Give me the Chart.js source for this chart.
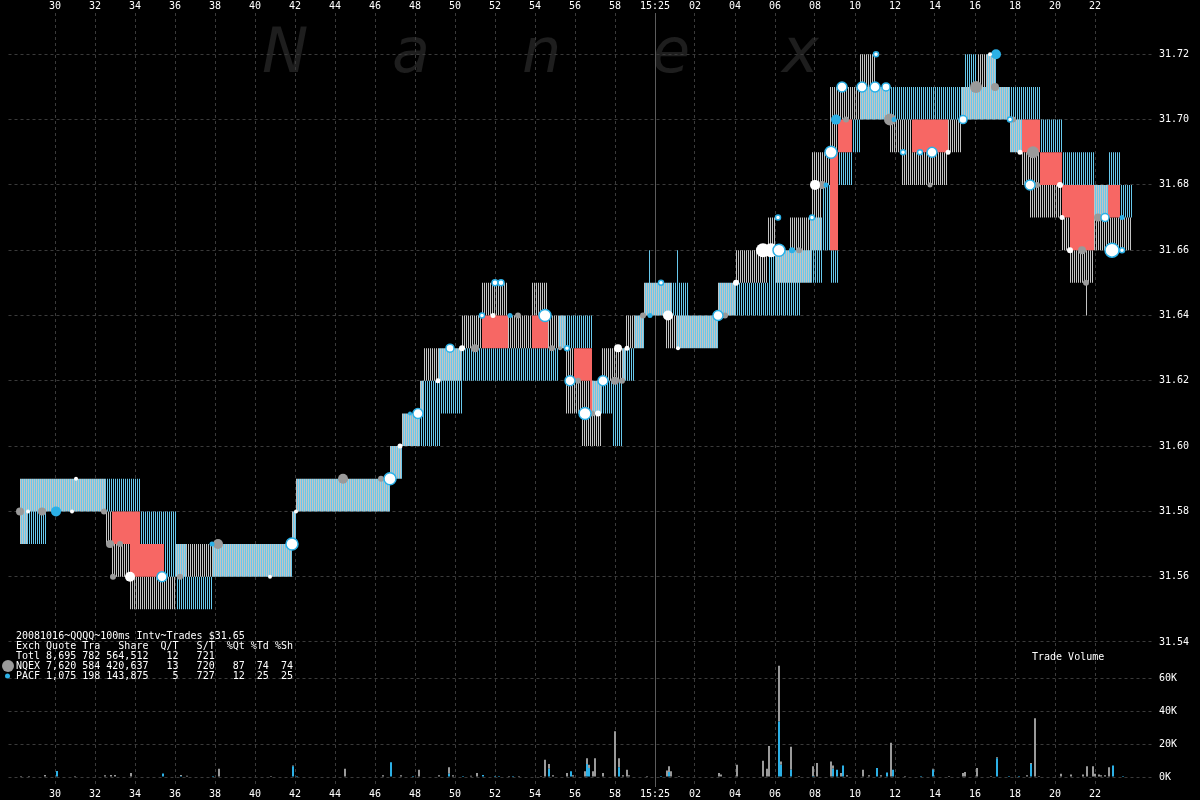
<!DOCTYPE html>
<html>
<head>
<meta charset="utf-8">
<script src="https://cdn.jsdelivr.net/npm/chart.js@4.4.1/dist/chart.umd.min.js"></script>
<style>
  html, body { margin: 0; padding: 0; background: #000; }
</style>
</head>
<body>
<canvas id="chart" width="1200" height="800"></canvas>
<script>
// QQQQ 2008-10-16, 15:24:28 - 15:25:24, 100ms intervals. Time = seconds from 15:25:00

// x axis ticks (seconds) and their labels
const xTickValues = [-30, -28, -26, -24, -22, -20, -18, -16, -14, -12, -10, -8, -6, -4, -2, 0, 2, 4, 6, 8, 10, 12, 14, 16, 18, 20, 22];
const xTickLabels = ['30', '32', '34', '36', '38', '40', '42', '44', '46', '48', '50', '52', '54', '56', '58', '15:25', '02', '04', '06', '08', '10', '12', '14', '16', '18', '20', '22'];
const priceTicks = [31.54, 31.56, 31.58, 31.60, 31.62, 31.64, 31.66, 31.68, 31.70, 31.72];
const volumeTicks = [0, 20, 40, 60]; // thousands of shares

// NQEX quote: value holds from time[i] until time[i+1]
const nqexTime = [-31.7, -31.3, -27.4, -27.1, -26.2, -23.9, -18.1, -17.9, -13.2, -12.6, -11.7, -11.5, -9.6, -8.6, -7.3, -6.1, -5.3, -4.4, -4.0, -3.6, -3.2, -3.1, -2.6, -1.4, -0.5, 0.6, 0.9, 3.2, 4.1, 5.7, 6.1, 6.8, 7.9, 8.4, 8.8, 9.2, 10.3, 11.1, 11.8, 12.4, 12.9, 14.7, 15.4, 16.2, 17.1, 17.8, 18.4, 18.8, 19.3, 20.4, 20.8, 21.6, 21.7, 22.0, 22.7, 23.9];
const nqexBid = [31.57, 31.58, 31.57, 31.56, 31.55, 31.56, 31.57, 31.58, 31.59, 31.60, 31.61, 31.62, 31.63, 31.64, 31.63, 31.64, 31.63, 31.61, 31.61, 31.60, 31.60, 31.60, 31.62, 31.63, 31.64, 31.63, 31.63, 31.64, 31.65, 31.66, 31.65, 31.65, 31.66, 31.68, 31.69, 31.70, 31.70, 31.70, 31.69, 31.68, 31.68, 31.69, 31.70, 31.70, 31.70, 31.69, 31.68, 31.67, 31.67, 31.66, 31.65, 31.64, 31.65, 31.66, 31.66, null];
const nqexAsk = [31.59, 31.59, 31.58, 31.57, 31.56, 31.57, 31.58, 31.59, 31.60, 31.61, 31.62, 31.63, 31.64, 31.65, 31.64, 31.65, 31.64, 31.63, 31.62, 31.62, 31.61, 31.62, 31.63, 31.64, 31.65, 31.65, 31.64, 31.65, 31.66, 31.67, 31.66, 31.67, 31.69, 31.69, 31.71, 31.71, 31.72, 31.71, 31.70, 31.70, 31.69, 31.70, 31.71, 31.72, 31.71, 31.70, 31.69, 31.69, 31.68, 31.67, 31.66, 31.66, 31.66, 31.68, 31.67, null];

// PACF quote
const pacfTime = [-31.7, -30.4, -25.7, -24.5, -23.9, -23.4, -22.1, -18.1, -17.9, -13.2, -12.6, -11.7, -10.8, -10.7, -9.6, -4.8, -3.1, -2.1, -1.6, -1.0, -0.5, -0.3, -0.2, 1.1, 1.2, 1.7, 3.2, 5.7, 7.3, 7.8, 8.4, 8.8, 9.2, 9.9, 10.3, 15.5, 16.1, 16.6, 17.1, 17.8, 18.4, 19.3, 20.4, 22.0, 22.7, 23.3, 23.9];
const pacfBid = [31.57, 31.58, 31.57, 31.56, 31.55, 31.55, 31.56, 31.57, 31.58, 31.59, 31.60, 31.60, 31.60, 31.61, 31.62, 31.63, 31.61, 31.60, 31.62, 31.63, 31.64, 31.64, 31.64, 31.63, 31.63, 31.63, 31.64, 31.64, 31.65, 31.65, 31.66, 31.65, 31.68, 31.69, 31.70, 31.70, 31.70, 31.70, 31.70, 31.69, 31.70, 31.69, 31.68, 31.67, 31.68, 31.67, null];
const pacfAsk = [31.59, 31.59, 31.58, 31.58, 31.57, 31.56, 31.57, 31.58, 31.59, 31.60, 31.61, 31.62, 31.63, 31.63, 31.63, 31.64, 31.62, 31.62, 31.63, 31.64, 31.65, 31.66, 31.65, 31.66, 31.65, 31.64, 31.65, 31.66, 31.66, 31.67, 31.68, 31.66, 31.69, 31.70, 31.71, 31.72, 31.71, 31.72, 31.71, 31.71, 31.71, 31.70, 31.69, 31.68, 31.69, 31.68, null];

// trades: [time, price, dot radius]
const nqexTrades = [[-31.75, 31.58, 4], [-30.65, 31.58, 4], [-27.55, 31.58, 3], [-27.25, 31.57, 4], [-26.75, 31.57, 3], [-27.1, 31.56, 3], [-23.75, 31.56, 3], [-21.85, 31.57, 5], [-15.6, 31.59, 5], [-13.7, 31.59, 3], [-9.0, 31.63, 4], [-6.85, 31.64, 3], [-5.15, 31.63, 3], [-4.75, 31.63, 2], [-3.85, 31.62, 3], [-3.15, 31.61, 3], [-2.0, 31.62, 4], [-1.65, 31.62, 3], [-0.6, 31.64, 3], [3.5, 31.64, 3], [7.2, 31.66, 3], [8.35, 31.68, 4], [9.55, 31.70, 3], [11.75, 31.70, 6], [13.75, 31.68, 2.5], [16.05, 31.71, 6], [17.0, 31.71, 4], [17.9, 31.70, 3], [18.9, 31.69, 6], [19.1, 31.68, 3], [21.35, 31.66, 4], [21.55, 31.65, 3], [22.15, 31.67, 4]];
const pacfTrades = [[-29.95, 31.58, 5], [-22.15, 31.57, 2.5], [-12.25, 31.61, 2], [-7.25, 31.64, 2.5], [-0.25, 31.64, 2.5], [6.85, 31.66, 3], [8.55, 31.68, 2.5], [9.05, 31.70, 5], [11.95, 31.70, 2.5], [17.05, 31.72, 5], [23.35, 31.67, 2.5]];
const plainTrades = [[-31.35, 31.58, 2], [-28.95, 31.59, 2], [-29.15, 31.58, 2], [-26.25, 31.56, 5], [-19.25, 31.56, 2], [-17.95, 31.58, 2], [-12.75, 31.60, 2.5], [-10.85, 31.62, 2.5], [-9.65, 31.63, 3], [-8.1, 31.64, 2.5], [-2.85, 31.61, 3], [-1.85, 31.63, 4], [-1.4, 31.63, 2.5], [0.65, 31.64, 5], [1.15, 31.63, 2], [4.05, 31.65, 3], [5.4, 31.66, 7], [5.8, 31.66, 7], [8.0, 31.68, 5], [14.65, 31.69, 2.5], [16.75, 31.72, 2], [18.25, 31.69, 2.5], [20.25, 31.68, 3], [20.35, 31.67, 2.5], [20.75, 31.66, 3]];
const ringTrades = [[-24.65, 31.56, 5], [-18.15, 31.57, 6], [-13.25, 31.59, 6], [-11.85, 31.61, 5], [-10.25, 31.63, 4], [-8.65, 31.64, 2.5], [-8.0, 31.65, 3], [-7.7, 31.65, 3], [-5.5, 31.64, 6], [-4.4, 31.63, 2.5], [-4.25, 31.62, 5], [-3.5, 31.61, 6], [-2.6, 31.62, 5], [0.3, 31.65, 2.5], [3.15, 31.64, 5], [6.2, 31.66, 6], [6.15, 31.67, 2.5], [7.85, 31.67, 2.5], [8.8, 31.69, 6], [9.35, 31.71, 5], [10.35, 31.71, 5], [11.0, 31.71, 5], [11.55, 31.71, 4], [11.05, 31.72, 2.5], [12.4, 31.69, 2.5], [13.25, 31.69, 2.5], [13.85, 31.69, 5], [15.4, 31.70, 4], [17.75, 31.70, 2.5], [18.75, 31.68, 5], [22.5, 31.67, 4], [22.85, 31.66, 7], [23.35, 31.66, 2.5]];

// trade volume per 100ms interval, thousands of shares
const volTime = [-31.7, -31.3, -30.5, -29.9, -29.0, -27.5, -27.2, -27.0, -26.2, -24.6, -23.7, -23.4, -22.1, -21.8, -19.2, -18.1, -17.9, -15.5, -13.6, -13.2, -12.7, -12.1, -11.8, -10.8, -10.3, -10.1, -9.6, -9.2, -8.9, -8.6, -8.0, -7.8, -7.3, -7.1, -6.8, -5.7, -5.5, -5.3, -5.1, -4.4, -4.2, -4.1, -3.5, -3.4, -3.3, -3.1, -3.0, -2.6, -2.0, -1.8, -1.6, -1.4, -1.3, -0.4, 0.3, 0.6, 0.7, 0.8, 1.2, 3.2, 3.3, 4.1, 5.4, 5.6, 5.7, 6.2, 6.3, 6.8, 7.2, 7.9, 8.1, 8.8, 8.9, 9.1, 9.3, 9.4, 9.6, 10.4, 10.7, 11.1, 11.3, 11.6, 11.8, 11.9, 12.5, 13.3, 13.9, 14.7, 15.4, 15.5, 16.1, 16.8, 17.1, 17.7, 18.2, 18.6, 18.8, 19.0, 19.2, 20.3, 20.8, 21.4, 21.6, 21.9, 22.0, 22.2, 22.3, 22.5, 22.7, 22.9, 23.4];
const volNqex = [0.6, 0.6, 1.2, 0, 0.6, 1.0, 1.2, 1.2, 2.4, 0, 0.6, 0.8, 0, 5.0, 0.6, 0.6, 0, 5.0, 1.0, 0, 1.0, 0, 4.5, 1.0, 4.0, 1.0, 0, 0.8, 2.5, 0, 0, 0, 0.6, 0, 0.6, 0.6, 10.5, 3.0, 1.0, 2.5, 0, 1.0, 3.5, 3.5, 2.0, 3.5, 11.5, 2.5, 28.0, 5.5, 1.0, 4.5, 1.0, 0.6, 0, 4.0, 3.5, 3.5, 0.6, 2.5, 1.5, 7.5, 10.0, 5.0, 19.0, 34.0, 2.0, 14.0, 0.6, 6.0, 8.5, 9.5, 2.0, 0, 2.5, 0, 1.0, 4.5, 1.0, 0, 1.0, 0, 21.0, 0, 0.6, 0, 0.6, 0.6, 2.5, 3.0, 5.5, 0.6, 0.6, 0, 0, 1.0, 0.6, 36.0, 0.6, 2.0, 1.5, 1.5, 6.5, 6.5, 2.0, 1.5, 1.0, 1.0, 6.0, 0, 0];
const volPacf = [0, 0, 0, 3.7, 0, 0, 0, 0, 0, 2.2, 0.6, 0, 0.6, 0, 0, 6.5, 0.6, 0, 0, 9.0, 0, 0.6, 0, 0, 2.0, 0, 0.6, 0, 0, 1.2, 0.6, 0.6, 0, 0.6, 0, 0, 0, 5.0, 0, 0, 3.5, 0, 0, 8.0, 5.5, 0, 0, 0, 0, 6.0, 0, 0, 0, 0, 0.6, 0, 3.0, 0, 0, 0, 0, 0, 0, 0, 0, 34.0, 7.5, 4.5, 0, 0.6, 0, 0, 5.0, 4.5, 0, 7.0, 0, 0, 0, 5.5, 0, 2.8, 0, 4.5, 0, 0.6, 4.5, 0, 0, 0, 0, 0, 11.5, 0.6, 0.6, 0, 8.0, 0, 0, 0, 0, 0, 0, 0, 0, 0, 0, 0, 0, 7.0, 0.6];

const legendLines = [
  '20081016~QQQQ~100ms Intv~Trades $31.65',
  'Exch Quote Tra   Share  Q/T   S/T  %Qt %Td %Sh',
  'Totl 8,695 782 564,512   12   721',
  'NQEX 7,620 584 420,637   13   720   87  74  74',
  'PACF 1,075 198 143,875    5   727   12  25  25'
];
const watermark = ['N', 'a', 'n', 'e', 'x'];

const nqexGray = '#c4c4c4';
const pacfBlue = '#68c8ec';
const tradeBlue = '#2cb0e6';
const monoFont = { family: '"DejaVu Sans Mono", monospace', size: 10 };

// expand the step series into 100ms bins
function quoteBins(times, bids, asks) {
  const bins = new Map();
  for (let i = 0; i < times.length - 1; i++) {
    if (bids[i] === null) continue;
    const k0 = Math.round(times[i] * 10), k1 = Math.round(times[i + 1] * 10);
    for (let k = k0; k < k1; k++) bins.set(k, [bids[i], asks[i]]);
  }
  return bins;
}
const nqexBins = quoteBins(nqexTime, nqexBid, nqexAsk);
const pacfBins = quoteBins(pacfTime, pacfBid, pacfAsk);
const toBars = bins => [...bins].map(([k, r]) => ({ x: k / 10, y: r }));

// crossed market: best bid above best offer
const crossedBars = [];
nqexBins.forEach((n, k) => {
  const p = pacfBins.get(k);
  if (!p) return;
  const hiBid = Math.max(n[0], p[0]), loAsk = Math.min(n[1], p[1]);
  if (hiBid > loAsk) crossedBars.push({ x: k / 10, y: [loAsk, hiBid] });
});

const snap = t => Math.round(t * 10) / 10;
const volBars = vals => volTime.map((t, i) => ({ x: snap(t), y: vals[i] }));
const dots = list => list.map(d => ({ x: d[0], y: d[1] }));
const radii = list => list.map(d => d[2]);

// target geometry: 15:25 at x=655, 20px a second; 31.72 at y=54.3, 31.54 at y=642; 0K at y=777
const zeroPx = 655, pxPerSec = 20;
const pxPerPrice = (642 - 54.3) / 0.18, pxPerK = 98.1 / 60;

const barFull = { grouped: false, barPercentage: 1, categoryPercentage: 1, borderWidth: 0, inflateAmount: 0 };
const barHalf = { ...barFull, barPercentage: 0.5 };

const nanexPlugin = {
  id: 'nanex',
  afterLayout(chart) {
    // volume labels share the price axis column on the right
    const v = chart.scales.yv, p = chart.scales.y;
    v.left = p.left; v.right = p.right; v.width = p.width;
  },
  beforeDraw(chart) {
    const ctx = chart.ctx;
    ctx.save();
    ctx.fillStyle = '#000';
    ctx.fillRect(0, 0, chart.width, chart.height);
    ctx.font = 'italic 62px "DejaVu Sans"';
    ctx.fillStyle = '#1e1e1e';
    watermark.forEach((ch, i) => ctx.fillText(ch, 262 + i * 130, 72));
    ctx.restore();
  },
  beforeDatasetsDraw(chart) {
    // 15:25 separator
    const ctx = chart.ctx, a = chart.chartArea;
    const px = Math.round(chart.scales.x.getPixelForValue(0)) + 0.5;
    ctx.save();
    ctx.strokeStyle = '#5c5c5c';
    ctx.lineWidth = 1;
    ctx.beginPath();
    ctx.moveTo(px, a.top);
    ctx.lineTo(px, a.bottom);
    ctx.stroke();
    ctx.restore();
  },
  afterDatasetsDraw(chart) {
    const ctx = chart.ctx;
    ctx.save();
    ctx.font = '10px "DejaVu Sans Mono", monospace';
    ctx.fillStyle = '#fff';
    ctx.textBaseline = 'middle';
    legendLines.forEach((line, i) => ctx.fillText(line, 16, 636 + i * 10));
    ctx.fillText('Trade Volume', 1032, 657);
    ctx.fillStyle = '#9a9a9a';
    ctx.beginPath(); ctx.arc(8, 666, 6, 0, Math.PI * 2); ctx.fill();
    ctx.fillStyle = tradeBlue;
    ctx.beginPath(); ctx.arc(7.5, 676, 2.5, 0, Math.PI * 2); ctx.fill();
    ctx.restore();
  }
};

const gridColor = '#3a3a3a';
const fitX = s => { s.height = 13; s.paddingLeft = 0; s.paddingRight = 0; };
const hiddenX = { type: 'linear', display: false, offset: false, min: -32.75, max: 24.85 };

const chart = new Chart(document.getElementById('chart'), {
  type: 'bar',
  data: {
    datasets: [
      { type: 'scatter', data: dots(ringTrades), pointRadius: radii(ringTrades), backgroundColor: '#fff', borderColor: tradeBlue, pointBorderWidth: 1.5, order: 1, xAxisID: 'x', yAxisID: 'y' },
      { type: 'scatter', data: dots(plainTrades), pointRadius: radii(plainTrades), backgroundColor: '#fff', pointBorderWidth: 0, order: 2, xAxisID: 'x', yAxisID: 'y' },
      { type: 'scatter', data: dots(pacfTrades), pointRadius: radii(pacfTrades), backgroundColor: tradeBlue, pointBorderWidth: 0, order: 3, xAxisID: 'x', yAxisID: 'y' },
      { type: 'scatter', data: dots(nqexTrades), pointRadius: radii(nqexTrades), backgroundColor: '#9a9a9a', pointBorderWidth: 0, order: 4, xAxisID: 'x', yAxisID: 'y' },
      { ...barFull, label: 'crossed', data: crossedBars, backgroundColor: '#f76764', order: 5, xAxisID: 'x', yAxisID: 'y' },
      // each exchange fills one pixel column of every 2px interval, so overlap interleaves
      { ...barHalf, label: 'PACF', data: toBars(pacfBins), backgroundColor: pacfBlue, order: 6, xAxisID: 'xb', yAxisID: 'y' },
      { ...barHalf, label: 'NQEX', data: toBars(nqexBins), backgroundColor: nqexGray, order: 7, xAxisID: 'xg', yAxisID: 'y' },
      { ...barFull, label: 'PACF vol', data: volBars(volPacf), backgroundColor: tradeBlue, stack: 'vol', order: 8, xAxisID: 'x', yAxisID: 'yv' },
      { ...barFull, label: 'NQEX vol', data: volBars(volNqex), backgroundColor: '#9a9a9a', stack: 'vol', order: 9, xAxisID: 'x', yAxisID: 'yv' }
    ]
  },
  options: {
    responsive: false,
    animation: false,
    events: [],
    layout: { padding: 0 },
    plugins: { legend: { display: false }, tooltip: { enabled: false } },
    scales: {
      x: {
        type: 'linear', position: 'bottom', min: -32.75, max: 24.85, offset: false,
        afterFit: fitX,
        afterBuildTicks: s => { s.ticks = xTickValues.map(v => ({ value: v })); },
        grid: { color: gridColor, drawTicks: false, offset: false },
        border: { display: false, dash: [3, 3] },
        ticks: { color: '#fff', font: monoFont, padding: 1, autoSkip: false, maxRotation: 0, callback: (v, i) => xTickLabels[i] }
      },
      x2: {
        type: 'linear', position: 'top', min: -32.75, max: 24.85, offset: false,
        afterFit: fitX,
        afterBuildTicks: s => { s.ticks = xTickValues.map(v => ({ value: v })); },
        grid: { display: false, drawTicks: false, offset: false },
        border: { display: false },
        ticks: { color: '#fff', font: monoFont, padding: 1, autoSkip: false, maxRotation: 0, callback: (v, i) => xTickLabels[i] }
      },
      xg: { ...hiddenX },
      xb: { ...hiddenX },
      y: {
        type: 'linear', position: 'right', min: 31.4956, max: 31.7327, stacked: false, weight: 1,
        afterFit: s => { s.width = 48; s.paddingTop = 0; s.paddingBottom = 0; },
        afterBuildTicks: s => { s.ticks = priceTicks.map(v => ({ value: v })); },
        grid: { color: gridColor, drawTicks: false },
        border: { display: false, dash: [3, 3] },
        ticks: { color: '#fff', font: monoFont, padding: 7, callback: v => v.toFixed(2) }
      },
      yv: {
        type: 'linear', position: 'right', min: -6.12, max: 467.3, stacked: true, weight: 0,
        afterFit: s => { s.width = 0; s.paddingTop = 0; s.paddingBottom = 0; },
        afterBuildTicks: s => { s.ticks = volumeTicks.map(v => ({ value: v })); },
        grid: { color: gridColor, drawTicks: false },
        border: { display: false, dash: [3, 3] },
        ticks: { color: '#fff', font: monoFont, padding: 7, callback: v => v + 'K' }
      }
    }
  },
  plugins: [nanexPlugin]
});

// pin the axis ranges to the plot area that the layout produced
const area = chart.chartArea;
const sc = chart.options.scales;
const setX = (id, shift) => {
  sc[id].min = (area.left - zeroPx - shift) / pxPerSec;
  sc[id].max = (area.right - zeroPx - shift) / pxPerSec;
};
setX('x', 0); setX('x2', 0);
setX('xg', -0.5); // NQEX column on the even pixel
setX('xb', 0.5);  // PACF column on the odd pixel
sc.y.min = 31.54 - (area.bottom - 642) / pxPerPrice;
sc.y.max = 31.72 + (54.3 - area.top) / pxPerPrice;
sc.yv.min = -(area.bottom - 777) / pxPerK;
sc.yv.max = (777 - area.top) / pxPerK;
chart.update();
</script>
</body>
</html>
